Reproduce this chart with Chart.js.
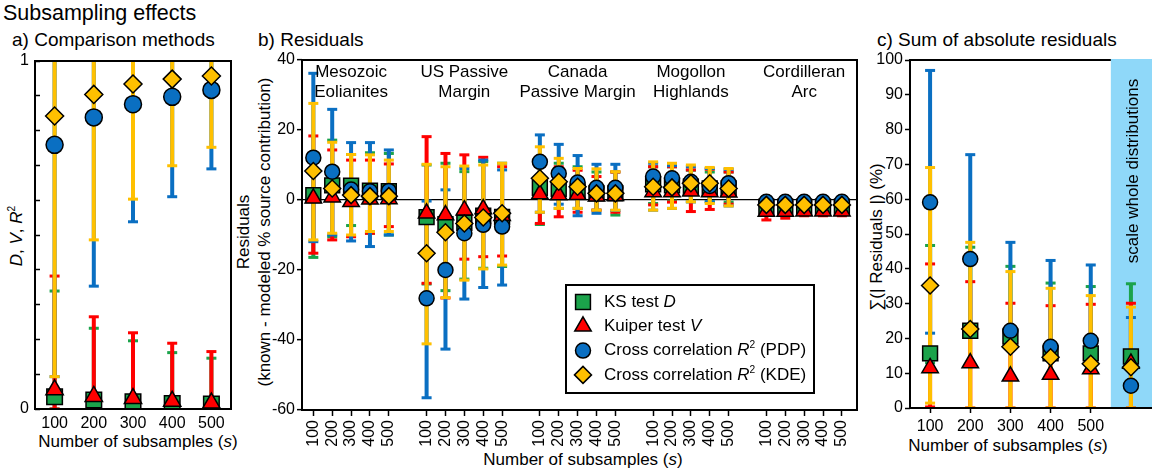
<!DOCTYPE html>
<html lang="en">

<head>
    <meta charset="UTF-8">
    <title>Subsampling effects</title>
    <script src="https://cdn.jsdelivr.net/npm/chart.js"></script>
    <style>
        body {
            margin: 0;
            width: 1152px;
            height: 470px;
            overflow: hidden;
            background: #fff;
            font-family: "Liberation Sans", Arial, sans-serif;
            color: #000;
        }

        canvas {
            position: absolute;
            top: 0;
        }

        .txt {
            position: absolute;
            white-space: nowrap;
            line-height: 1;
            font-size: 17px;
        }

        .rot {
            transform: translate(-50%, -50%) rotate(-90deg);
        }

        .ctr {
            transform: translateX(-50%);
        }

        sup {
            font-size: 0.6em;
            vertical-align: 0.6em;
            line-height: 0;
        }
    </style>
</head>

<body>
    <div class="txt" style="left:3px; top:3px; font-size:21.5px">Subsampling effects</div>
    <div class="txt" style="left:12px; top:30px; font-size:19px">a) Comparison methods</div>
    <div class="txt" style="left:258px; top:30px; font-size:19px">b) Residuals</div>
    <div class="txt" style="left:877px; top:30px; font-size:19px">c) Sum of absolute residuals</div>

    <div class="txt rot" style="left:16px; top:236px"><i>D</i>, <i>V</i>, <i>R</i><sup>2</sup></div>
    <div class="txt ctr" style="left:138px; top:433px">Number of subsamples (<i>s</i>)</div>

    <div class="txt rot" style="left:243px; top:232px">Residuals</div>
    <div class="txt rot" style="left:264px; top:232px">(known - modeled % source contribution)</div>
    <div class="txt ctr" style="left:583px; top:451px">Number of subsamples (<i>s</i>)</div>

    <div class="txt rot" style="left:876px; top:237px">∑(| Residuals |) (%)</div>
    <div class="txt ctr" style="left:1008px; top:437px">Number of subsamples (<i>s</i>)</div>

    <canvas id="chartA" width="250" height="470" style="left:0"></canvas>
    <canvas id="chartB" width="640" height="470" style="left:235px"></canvas>
    <canvas id="chartC" width="300" height="470" style="left:870px"></canvas>
</body>

</html>

<script>
    var FONT = '"Liberation Sans", Arial, sans-serif';

    var subsamples = [100, 200, 300, 400, 500];
    var methods = ["KS test D", "Kuiper test V", "Cross correlation R² (PDP)", "Cross correlation R² (KDE)"];
    var fills = ["#1ba34b", "#ff0000", "#0a6fc2", "#ffc000"];
    var shapes = ["rect", "triangle", "circle", "rectRot"];
    var legendText = [
        [["KS test ", "n"], ["D", "i"]],
        [["Kuiper test ", "n"], ["V", "i"]],
        [["Cross correlation ", "n"], ["R", "i"], ["2", "s"], [" (PDP)", "n"]],
        [["Cross correlation ", "n"], ["R", "i"], ["2", "s"], [" (KDE)", "n"]]
    ];

    // a) comparison values (mean, lower, upper)
    var aKS = [0.035, 0.026, 0.021, 0.016, 0.014];
    var aKSLow = [0, 0, 0, 0, 0];
    var aKSHigh = [0.339, 0.232, 0.196, 0.162, 0.146];
    var aKuiper = [0.055, 0.036, 0.03, 0.022, 0.017];
    var aKuiperLow = [0, 0, 0, 0, 0];
    var aKuiperHigh = [0.382, 0.265, 0.219, 0.189, 0.165];
    var aPDP = [0.759, 0.838, 0.876, 0.897, 0.917];
    var aPDPLow = [0.093, 0.353, 0.538, 0.61, 0.69];
    var aPDPHigh = [1.02, 1.02, 1.02, 1.02, 1.02];
    var aKDE = [0.842, 0.904, 0.934, 0.948, 0.957];
    var aKDELow = [0.093, 0.486, 0.603, 0.699, 0.752];
    var aKDEHigh = [1.02, 1.02, 1.02, 1.02, 1.02];

    // b) residuals, 5 regions x 5 subsample sizes
    var regions = [["Mesozoic", "Eolianites"], ["US Passive", "Margin"], ["Canada", "Passive Margin"], ["Mogollon", "Highlands"], ["Cordilleran", "Arc"]];
    var bKS = [1.4, 4.2, 4.1, 2.7, 2.5, -4.9, -6.9, -6.5, -4.5, -4.8, 3.5, 3.2, 2.4, 1.9, 1.9, 4.5, 4.2, 3.8, 3.3, 3.3, -1.9, -1.9, -1.9, -1.9, -1.9];
    var bKSLow = [-16.4, -10.5, -7.3, -9.5, -10, -24, -25.9, -22.6, -19.5, -19, -7, -2.4, -2.4, -2.9, -4.3, -1, -0.3, -0.5, -0.5, -0.6, -3, -3, -3, -3, -3];
    var bKSHigh = [11, 17.1, 13, 13.5, 13.3, 10, 10.5, 8.1, 11, 10.5, 11, 10.5, 9.5, 8, 8, 9.5, 9.5, 8.5, 8, 8, 0, 0, 0, 0, 0];
    var bKuiper = [0.5, 0.8, -0.5, 0.2, 0.3, -3.8, -4.3, -2.9, -2.6, -4.5, 1.7, 1.4, 1.5, 1.1, 1.2, 2.3, 2.3, 2.5, 2.3, 2.2, -3.3, -3.3, -3.2, -3.2, -3.2];
    var bKuiperLow = [-15.2, -11.4, -10.5, -9.5, -7.6, -23.8, -28, -16.9, -16.2, -16, -6.7, -4.8, -3.5, -2.9, -3.5, -1.4, -0.6, -3.3, -2.7, -1.2, -5.7, -5.2, -4.5, -4.5, -4.5];
    var bKuiperHigh = [18.3, 14.3, 11.4, 11.4, 10.3, 18.1, 13.3, 12.9, 12.2, 9.5, 12, 9.5, 8.5, 6.7, 8, 9.5, 9.5, 8.6, 8.8, 8, 0, 0, 0, 0, 0];
    var bPDP = [12.1, 8.1, 3.0, 2.5, 2.6, -28.1, -20, -9.5, -7.1, -7.6, 10.9, 7.6, 5.0, 3.5, 3.5, 6.7, 6.2, 5.2, 4.0, 4.8, -0.5, -0.5, -0.5, -0.5, -0.5];
    var bPDPLow = [-11.9, -10, -11.7, -13.3, -10, -56.5, -42.6, -28.3, -25, -24.3, -3.5, -1.2, -4.5, -3.8, -3, -2.9, -2.4, -0.5, -0.5, -1.7, -2, -2, -2, -2, -2];
    var bPDPHigh = [36.2, 25.9, 16.4, 16.4, 14.3, -0.3, 2.9, 9, 11.4, 8.6, 18.6, 15.9, 12.7, 10.2, 10.2, 10.5, 9.8, 9.5, 9, 8.8, 1, 1, 1, 1, 1];
    var bKDE = [8.3, 3.3, 1.4, 1.1, 1.1, -15.2, -9.2, -6.7, -5.0, -3.8, 6.2, 5.2, 3.8, 1.9, 1.9, 3.8, 3.6, 4.8, 4.8, 3.3, -1.4, -1.4, -1.4, -1.4, -1.4];
    var bKDELow = [-11.4, -9.5, -10, -9, -9, -41.1, -27.9, -22.9, -19.7, -18.6, -3.5, -2.4, -2.4, -2.9, -2.9, -2.9, -2.4, -0.5, -1, -1.7, -3, -3, -3, -3, -3];
    var bKDEHigh = [27.6, 16.5, 13, 12.9, 11.4, 10.2, 9.5, 9.7, 10, 10.5, 15.2, 11.9, 9, 8.9, 8.1, 10.9, 10.5, 10, 9.3, 9, 0, 0, 0, 0, 0];

    // c) sum of absolute residuals, last column = scale whole distributions
    var cLabels = ["100", "200", "300", "400", "500", ""];
    var bandLabel = "scale whole distributions";
    var cKS = [15.7, 22.2, 20.5, 15.7, 15.7, 14.8];
    var cKSLow = [13, 20.5, 19, 14, 14, 13.5];
    var cKSHigh = [46.7, 46.2, 40.7, 35.9, 34.9, 35.7];
    var cKuiper = [11.5, 12.9, 9.1, 9.6, 11.2, 12.8];
    var cKuiperLow = [0.3, 0, 0, 0, 0, 0];
    var cKuiperHigh = [41.4, 36.3, 30.1, 29.4, 29.8, 30.1];
    var cPDP = [59.1, 42.8, 22.2, 17.6, 19.3, 6.4];
    var cPDPLow = [21.5, 21, 20.5, 16, 17.5, 5];
    var cPDPHigh = [97.0, 72.8, 47.6, 42.4, 41.1, 26.0];
    var cKDE = [35.2, 22.7, 17.6, 14.6, 12.7, 11.7];
    var cKDELow = [1.4, 0, 0, 0, 0, 0];
    var cKDEHigh = [69.1, 47.6, 39.2, 34.4, 32.3, 29.0];

    Chart.defaults.color = "#000";
    Chart.defaults.font.family = FONT;

    function makeSets(vals, lows, highs, radii, xs) {
        return methods.map(function (m, k) {
            return {
                label: m,
                data: xs ? vals[k].map(function (v, j) { return { x: xs[j], y: v }; }) : vals[k],
                errLow: lows[k],
                errHigh: highs[k],
                showLine: false,
                pointStyle: shapes[k],
                pointRadius: radii[k],
                pointBackgroundColor: fills[k],
                pointBorderColor: "#000",
                pointBorderWidth: 1.5,
                backgroundColor: fills[k],
                borderColor: "#000",
                order: 4 - k
            };
        });
    }

    function drawRich(ctx, segs, x, y, size) {
        ctx.textAlign = "left";
        ctx.textBaseline = "middle";
        ctx.fillStyle = "#000";
        segs.forEach(function (s) {
            var sup = s[1] === "s";
            ctx.font = (s[1] === "i" ? "italic " : "") + (sup ? size * 0.6 : size) + "px " + FONT;
            ctx.fillText(s[0], x, sup ? y - size * 0.3 : y);
            x += ctx.measureText(s[0]).width;
        });
    }

    // vertical error bars with caps, drawn under the markers
    var errorBars = {
        id: "errorBars",
        beforeDatasetsDraw: function (chart) {
            var ctx = chart.ctx, a = chart.chartArea;
            ctx.save();
            ctx.beginPath();
            ctx.rect(a.left, a.top, a.right - a.left, a.bottom - a.top);
            ctx.clip();
            chart.data.datasets.forEach(function (ds, i) {
                var meta = chart.getDatasetMeta(i);
                ctx.fillStyle = ds.pointBackgroundColor;
                meta.data.forEach(function (pt, j) {
                    var lo = meta.yScale.getPixelForValue(ds.errLow[j]);
                    var hi = meta.yScale.getPixelForValue(ds.errHigh[j]);
                    ctx.fillRect(pt.x - 2, hi, 4, lo - hi);
                    ctx.fillRect(pt.x - 5, hi - 1.5, 10, 3);
                    ctx.fillRect(pt.x - 5, lo - 1.5, 10, 3);
                });
            });
            ctx.restore();
        }
    };

    var frame = {
        id: "frame",
        afterDatasetsDraw: function (chart) {
            var ctx = chart.ctx, a = chart.chartArea;
            ctx.save();
            ctx.strokeStyle = "#000";
            ctx.lineWidth = 2;
            ctx.strokeRect(a.left, a.top, a.right - a.left, a.bottom - a.top);
            ctx.restore();
        }
    };

    var regionLabels = {
        id: "regionLabels",
        afterDatasetsDraw: function (chart) {
            var ctx = chart.ctx, a = chart.chartArea, xs = chart.scales.x;
            ctx.save();
            ctx.font = "17px " + FONT;
            ctx.textAlign = "center";
            ctx.textBaseline = "middle";
            ctx.fillStyle = "#000";
            regions.forEach(function (r, g) {
                var cx = xs.getPixelForValue(g * 6 + 2);
                ctx.fillText(r[0], cx, a.top + 12);
                ctx.fillText(r[1], cx, a.top + 32);
            });
            ctx.restore();
        }
    };

    var legendBox = {
        id: "legendBox",
        afterDatasetsDraw: function (chart) {
            var ctx = chart.ctx, a = chart.chartArea;
            var x0 = a.right - 291, y0 = a.bottom - 125;
            ctx.save();
            ctx.fillStyle = "#fff";
            ctx.fillRect(x0, y0, 248, 108);
            ctx.strokeStyle = "#000";
            ctx.lineWidth = 2;
            ctx.strokeRect(x0, y0, 248, 108);
            chart.data.datasets.forEach(function (ds, k) {
                var y = y0 + 17 + k * 24.3;
                ctx.fillStyle = ds.pointBackgroundColor;
                ctx.strokeStyle = "#000";
                ctx.lineWidth = 1.5;
                Chart.helpers.drawPoint(ctx, { pointStyle: ds.pointStyle, radius: ds.pointRadius, borderWidth: 1.5, rotation: 0 }, x0 + 17, y);
                drawRich(ctx, legendText[k], x0 + 38, y, 17);
            });
            ctx.restore();
        }
    };

    var wholeBand = {
        id: "wholeBand",
        beforeDatasetsDraw: function (chart) {
            var ctx = chart.ctx, a = chart.chartArea, xs = chart.scales.x;
            var x0 = xs.getPixelForValue(4.5);
            ctx.save();
            ctx.fillStyle = "#8fd8f9";
            ctx.fillRect(x0, a.top - 1, chart.width - x0, a.bottom - a.top + 1);
            ctx.translate(xs.getPixelForValue(5) + 2, a.top + 111);
            ctx.rotate(-Math.PI / 2);
            ctx.font = "17px " + FONT;
            ctx.textAlign = "center";
            ctx.textBaseline = "middle";
            ctx.fillStyle = "#000";
            ctx.fillText(bandLabel, 0, 0);
            ctx.restore();
        },
        afterDatasetsDraw: function (chart) {
            var ctx = chart.ctx, a = chart.chartArea, xs = chart.scales.x;
            var x0 = xs.getPixelForValue(4.5);
            ctx.save();
            ctx.strokeStyle = "#000";
            ctx.lineWidth = 2;
            ctx.beginPath();
            ctx.moveTo(x0, a.top);
            ctx.lineTo(a.left, a.top);
            ctx.lineTo(a.left, a.bottom);
            ctx.lineTo(chart.width, a.bottom);
            ctx.stroke();
            ctx.restore();
        }
    };

    // ---------- a) Comparison methods ----------
    new Chart(document.getElementById("chartA"), {
        type: "line",
        data: {
            labels: subsamples,
            datasets: makeSets([aKS, aKuiper, aPDP, aKDE], [aKSLow, aKuiperLow, aPDPLow, aKDELow],
                [aKSHigh, aKuiperHigh, aPDPHigh, aKDEHigh], [11, 10, 8.5, 9])
        },
        options: {
            responsive: false,
            animation: false,
            events: [],
            layout: { padding: { top: 61, right: 19, left: 0, bottom: 0 } },
            plugins: { legend: { display: false }, tooltip: { enabled: false } },
            scales: {
                x: {
                    offset: true,
                    grid: { display: false, drawTicks: false },
                    border: { display: false },
                    ticks: { font: { size: 16 }, padding: 5, maxRotation: 0 },
                    afterFit: function (s) { s.height = 61; }
                },
                y: {
                    min: 0,
                    max: 1,
                    grid: { drawOnChartArea: false, tickLength: -5, tickColor: "#000", tickWidth: 1.5 },
                    border: { display: false },
                    ticks: {
                        stepSize: 0.1,
                        padding: 11,
                        font: { size: 16 },
                        callback: function (v) { return v === 0 || v === 1 ? String(v) : ""; }
                    },
                    afterFit: function (s) { s.width = 35; }
                }
            }
        },
        plugins: [errorBars, frame]
    });

    // ---------- b) Residuals ----------
    var bPositions = [];
    regions.forEach(function (r, g) {
        subsamples.forEach(function (s, j) { bPositions.push(g * 6 + j); });
    });

    new Chart(document.getElementById("chartB"), {
        type: "scatter",
        data: {
            datasets: makeSets([bKS, bKuiper, bPDP, bKDE], [bKSLow, bKuiperLow, bPDPLow, bKDELow],
                [bKSHigh, bKuiperHigh, bPDPHigh, bKDEHigh], [10.5, 9.5, 7.5, 8.5], bPositions)
        },
        options: {
            responsive: false,
            animation: false,
            events: [],
            layout: { padding: { top: 60, right: 18, left: 0, bottom: 0 } },
            plugins: { legend: { display: false }, tooltip: { enabled: false } },
            scales: {
                x: {
                    type: "linear",
                    min: -0.6,
                    max: 28.8,
                    grid: { drawOnChartArea: false, tickLength: 6, tickColor: "#000", tickWidth: 1.5 },
                    border: { display: false },
                    afterBuildTicks: function (s) {
                        s.ticks = bPositions.map(function (v) { return { value: v }; });
                    },
                    ticks: {
                        autoSkip: false,
                        minRotation: 90,
                        maxRotation: 90,
                        padding: 4,
                        font: { size: 16 },
                        callback: function (v) { return String(subsamples[v % 6]); }
                    },
                    afterFit: function (s) { s.height = 60; }
                },
                y: {
                    min: -60,
                    max: 40,
                    grid: {
                        color: function (c) { return c.tick && c.tick.value === 0 ? "#000" : "rgba(0,0,0,0)"; },
                        lineWidth: 1.3,
                        tickLength: 5,
                        tickColor: "#000",
                        tickWidth: 1.5
                    },
                    border: { display: false },
                    ticks: { stepSize: 20, padding: 2, font: { size: 16 } },
                    afterFit: function (s) { s.width = 67; }
                }
            }
        },
        plugins: [errorBars, frame, regionLabels, legendBox]
    });

    // ---------- c) Sum of absolute residuals ----------
    new Chart(document.getElementById("chartC"), {
        type: "line",
        data: {
            labels: cLabels,
            datasets: makeSets([cKS, cKuiper, cPDP, cKDE], [cKSLow, cKuiperLow, cPDPLow, cKDELow],
                [cKSHigh, cKuiperHigh, cPDPHigh, cKDEHigh], [10.5, 9.5, 7.5, 8.5])
        },
        options: {
            responsive: false,
            animation: false,
            events: [],
            layout: { padding: { top: 60, right: 19, left: 0, bottom: 0 } },
            plugins: { legend: { display: false }, tooltip: { enabled: false } },
            scales: {
                x: {
                    offset: true,
                    grid: { drawOnChartArea: false, tickLength: 5, tickColor: "#000", tickWidth: 1.5 },
                    border: { display: false },
                    afterBuildTicks: function (s) {
                        s.ticks = s.ticks.filter(function (t) { return cLabels[t.value] !== ""; });
                    },
                    ticks: { font: { size: 16 }, padding: 4, maxRotation: 0, autoSkip: false },
                    afterFit: function (s) { s.height = 62; }
                },
                y: {
                    min: 0,
                    max: 100,
                    grid: { drawOnChartArea: false, tickLength: 5, tickColor: "#000", tickWidth: 1.5 },
                    border: { display: false },
                    ticks: { stepSize: 10, padding: 2, font: { size: 16 } },
                    afterFit: function (s) { s.width = 40; }
                }
            }
        },
        plugins: [wholeBand, errorBars]
    });
</script>
